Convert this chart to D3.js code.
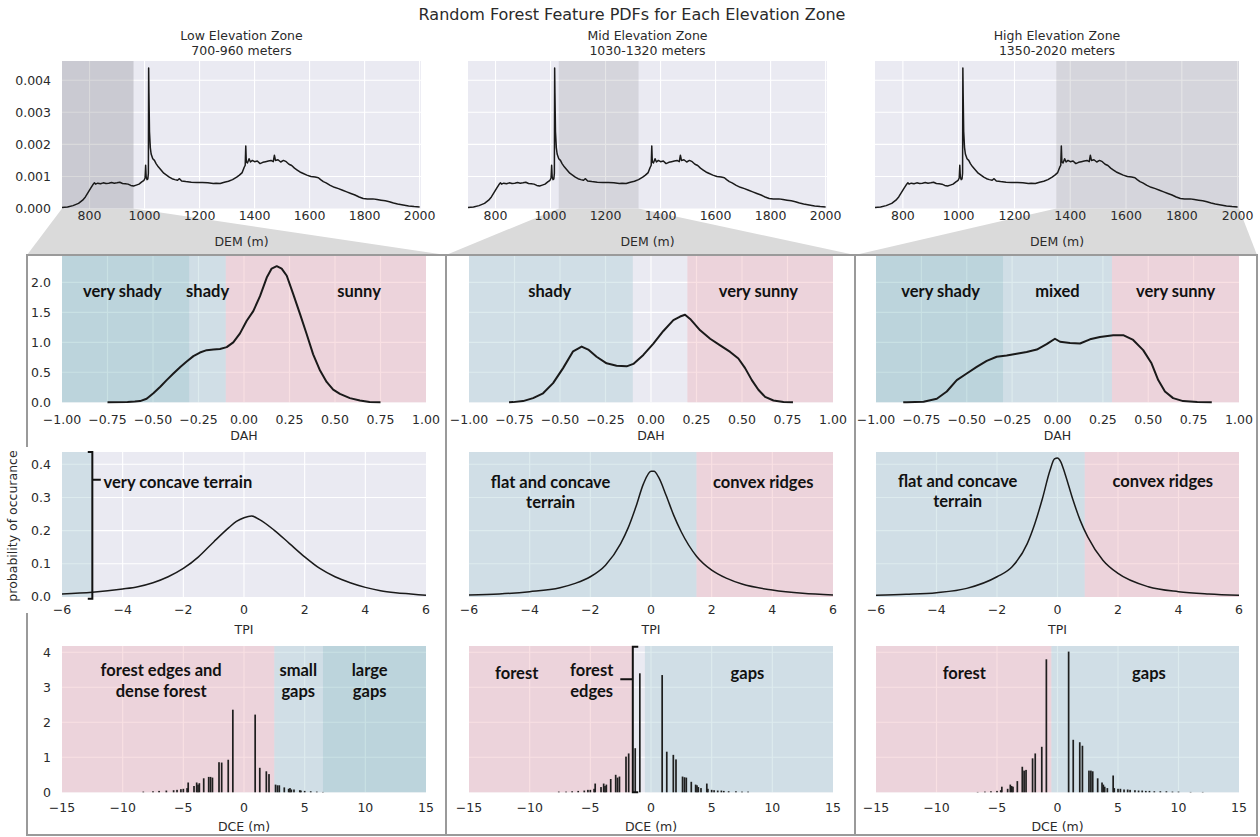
<!DOCTYPE html>
<html>
<head>
<meta charset="utf-8">
<script src="https://cdn.jsdelivr.net/npm/d3@7"></script>
<style>
  body { margin: 0; background: #fff; }
  svg text { font-family: "DejaVu Sans", sans-serif; fill: #2a2a2a; }
  svg text.note { font-family: Lato, "Open Sans", sans-serif; font-weight: 700; fill: #111; }
</style>
</head>
<body>
<svg id="chart" width="1260" height="837"></svg>
<script>
// ---------------- data ----------------
const zoneNames = ["Low Elevation Zone", "Mid Elevation Zone", "High Elevation Zone"];
const zoneRanges = ["700-960 meters", "1030-1320 meters", "1350-2020 meters"];
const zoneBounds = [[700, 960], [1030, 1320], [1350, 2020]];

const demTicks = [800, 1000, 1200, 1400, 1600, 1800, 2000];
const demYTicks = [0, 0.001, 0.002, 0.003, 0.004];
const dahTicks = [-1, -0.75, -0.5, -0.25, 0, 0.25, 0.5, 0.75, 1];
const dahYTicks = [0, 0.5, 1, 1.5, 2];
const tpiTicks = [-6, -4, -2, 0, 2, 4, 6];
const tpiYTicks = [0, 0.1, 0.2, 0.3, 0.4];
const dceTicks = [-15, -10, -5, 0, 5, 10, 15];
const dceYTicks = [0, 1, 2, 3, 4];

// elevation density (DEM, m) -> pdf
const demPdf = [
  [700,.00003],[720,.00005],[740,.00009],[760,.00016],[775,.00026],[785,.00036],[795,.0005],[805,.00064],
  [812,.00074],[818,.0008],[822,.00076],[830,.00079],[840,.00077],[850,.0008],[860,.00078],[870,.00079],
  [880,.00081],[890,.00079],[900,.0008],[910,.00082],[920,.00078],[930,.00077],[940,.00076],[950,.00072],
  [960,.0007],[970,.00073],[980,.00076],[990,.00083],[998,.00088],[1002,.00095],[1004,.00135],[1006,.00098],
  [1009,.0009],[1012,.00092],[1014,.0011],[1015,.00438],[1016,.0036],[1018,.0024],[1021,.0019],[1024,.0017],
  [1030,.00155],[1036,.0015],[1042,.0014],[1050,.0013],[1060,.0012],[1070,.0011],[1080,.00104],[1090,.00098],
  [1100,.00093],[1110,.0009],[1120,.00088],[1127,.00093],[1135,.00086],[1150,.00084],[1170,.00082],[1190,.00081],
  [1210,.00081],[1230,.0008],[1250,.00078],[1260,.00079],[1275,.00078],[1290,.00082],[1305,.00085],[1320,.0009],
  [1335,.00098],[1345,.00104],[1355,.00112],[1362,.00128],[1366,.00135],[1368,.00195],[1370,.00145],[1374,.00142],
  [1380,.00155],[1385,.00145],[1392,.0015],[1400,.00146],[1410,.00148],[1420,.0014],[1430,.00144],[1440,.00146],
  [1450,.00148],[1460,.0015],[1468,.00146],[1472,.00166],[1476,.0015],[1485,.00152],[1495,.00145],[1505,.0015],
  [1515,.00146],[1525,.00138],[1535,.00134],[1545,.00126],[1555,.0012],[1565,.00114],[1575,.0011],[1590,.00104],
  [1605,.001],[1620,.00098],[1632,.00096],[1640,.0009],[1650,.00084],[1660,.0008],[1675,.00072],[1690,.00066],
  [1705,.00062],[1720,.00057],[1735,.00052],[1750,.00047],[1765,.00042],[1780,.00036],[1795,.00031],[1810,.0003],
  [1830,.0003],[1845,.00028],[1860,.00026],[1875,.00024],[1890,.00021],[1905,.00017],[1920,.00014],[1940,.00011],
  [1960,.00008],[1980,.00006],[2000,.00005]
];

// DAH pdf per zone
const dahLow = [
  [-0.75,0],[-0.64,0.005],[-0.6,0.012],[-0.571,0.02],[-0.535,0.06],[-0.498,0.15],[-0.46,0.26],[-0.425,0.37],
  [-0.388,0.48],[-0.35,0.59],[-0.315,0.68],[-0.278,0.77],[-0.242,0.83],[-0.205,0.87],[-0.168,0.88],[-0.132,0.89],
  [-0.095,0.92],[-0.059,1.0],[-0.022,1.15],[0.015,1.36],[0.051,1.52],[0.088,1.77],[0.125,2.08],[0.152,2.23],
  [0.18,2.27],[0.207,2.23],[0.235,2.11],[0.271,1.8],[0.308,1.47],[0.345,1.13],[0.38,0.8],[0.418,0.53],
  [0.454,0.34],[0.49,0.21],[0.527,0.14],[0.582,0.07],[0.637,0.03],[0.69,0.005],[0.75,0]
];
const dahMid = [
  [-0.78,0],[-0.758,0.003],[-0.703,0.02],[-0.648,0.07],[-0.593,0.15],[-0.538,0.32],[-0.483,0.57],[-0.428,0.85],
  [-0.381,0.93],[-0.345,0.88],[-0.299,0.76],[-0.244,0.65],[-0.189,0.61],[-0.134,0.6],[-0.097,0.64],[-0.042,0.79],
  [0.013,0.98],[0.068,1.19],[0.123,1.37],[0.16,1.43],[0.187,1.46],[0.215,1.39],[0.27,1.2],[0.325,1.06],
  [0.38,0.95],[0.435,0.84],[0.48,0.73],[0.517,0.57],[0.554,0.37],[0.59,0.21],[0.627,0.09],[0.673,0.03],
  [0.728,0.005],[0.78,0]
];
const dahHigh = [
  [-0.85,0],[-0.83,0.002],[-0.738,0.01],[-0.665,0.06],[-0.61,0.18],[-0.555,0.37],[-0.5,0.48],[-0.445,0.59],
  [-0.39,0.69],[-0.335,0.76],[-0.28,0.78],[-0.225,0.81],[-0.17,0.84],[-0.114,0.88],[-0.06,0.97],[-0.014,1.06],
  [0.014,1.01],[0.069,0.99],[0.124,0.98],[0.179,1.05],[0.234,1.09],[0.307,1.12],[0.362,1.12],[0.417,1.04],
  [0.472,0.87],[0.518,0.65],[0.555,0.37],[0.592,0.18],[0.637,0.07],[0.692,0.02],[0.77,0.005],[0.85,0]
];

// TPI pdf per zone
const tpiLow = [
  [-6,0.009],[-5,0.014],[-4,0.024],[-3.5,0.031],[-3,0.043],[-2.5,0.061],[-2,0.086],[-1.5,0.121],[-1,0.166],
  [-0.5,0.209],[-0.25,0.228],[0,0.239],[0.25,0.244],[0.5,0.234],[1,0.201],[1.5,0.161],[2,0.121],[2.5,0.086],
  [3,0.061],[3.5,0.043],[4,0.029],[4.5,0.019],[5,0.013],[5.5,0.009],[6,0.005]
];
const tpiMid = [
  [-6,0.006],[-5,0.009],[-4,0.016],[-3,0.028],[-2.5,0.041],[-2,0.061],[-1.5,0.096],[-1,0.161],[-0.75,0.209],
  [-0.5,0.271],[-0.25,0.341],[0,0.379],[0.1,0.379],[0.25,0.361],[0.5,0.306],[0.75,0.246],[1,0.196],[1.5,0.123],
  [2,0.081],[2.5,0.056],[3,0.039],[4,0.021],[5,0.011],[6,0.006]
];
const tpiHigh = [
  [-6,0.005],[-5,0.008],[-4,0.013],[-3,0.026],[-2,0.061],[-1.5,0.091],[-1,0.161],[-0.75,0.221],[-0.5,0.296],
  [-0.25,0.381],[-0.1,0.416],[0,0.419],[0.1,0.409],[0.25,0.371],[0.5,0.296],[0.75,0.231],[1,0.181],[1.5,0.111],
  [2,0.071],[3,0.031],[4,0.016],[5,0.009],[6,0.005]
];

// DCE pdf per zone (distance to canopy edge, m)
const dceLow = [
  [-8.3,0.02],[-7.5,0.03],[-7.0,0.04],[-6.4,0.05],[-5.8,0.06],[-5.52,0.07],[-5.2,0.09],[-5.0,0.1],[-4.69,0.12],
  [-4.6,0.28],[-4.12,0.18],[-3.9,0.28],[-3.79,0.22],[-3.68,0.26],[-3.32,0.4],[-2.91,0.44],[-2.76,0.44],[-2.6,0.42],
  [-2.06,0.86],[-1.84,0.85],[-1.3,0.93],[-0.92,2.36],
  [0.92,2.22],[1.3,0.7],[1.84,0.6],[2.06,0.52],[2.6,0.22],[2.76,0.2],[2.91,0.2],[3.32,0.14],[3.68,0.1],
  [3.79,0.12],[3.9,0.08],[4.12,0.08],[4.6,0.06],[4.69,0.05],[5.0,0.04],[5.5,0.03],[6.0,0.02],[6.5,0.01]
];
const dceMid = [
  [-7.6,0.02],[-7.0,0.02],[-6.5,0.03],[-6.0,0.04],[-5.5,0.05],[-5.2,0.07],[-5.0,0.07],[-4.69,0.1],[-4.6,0.25],
  [-4.12,0.15],[-3.9,0.25],[-3.79,0.18],[-3.68,0.22],[-3.32,0.38],[-2.91,0.5],[-2.76,0.42],[-2.6,0.45],
  [-2.06,1.02],[-1.84,1.11],[-1.3,1.26],[-0.92,3.4],
  [0.92,3.35],[1.3,1.16],[1.84,1.07],[2.06,0.94],[2.6,0.45],[2.76,0.43],[2.91,0.42],[3.32,0.3],[3.68,0.22],
  [3.79,0.2],[3.9,0.15],[4.12,0.12],[4.6,0.25],[4.69,0.1],[5.0,0.07],[5.2,0.06],[5.5,0.05],[5.8,0.05],
  [6.0,0.04],[6.4,0.03],[7.0,0.03],[7.5,0.02],[8.0,0.02]
];
const dceHigh = [
  [-6.6,0.01],[-6.0,0.02],[-5.5,0.03],[-5.0,0.04],[-4.69,0.06],[-4.6,0.16],[-4.12,0.1],[-3.9,0.22],[-3.79,0.18],
  [-3.68,0.16],[-3.32,0.32],[-2.91,0.73],[-2.76,0.62],[-2.6,0.64],[-2.06,0.97],[-1.84,1.11],[-1.3,1.3],[-0.92,3.8],
  [0.92,4.02],[1.3,1.5],[1.84,1.43],[2.06,1.33],[2.6,0.62],[2.76,0.62],[2.91,0.6],[3.32,0.4],[3.68,0.28],
  [3.79,0.22],[3.9,0.16],[4.12,0.12],[4.6,0.48],[4.69,0.12],[5.0,0.1],[5.2,0.1],[5.5,0.08],[5.8,0.08],[6.0,0.07],
  [6.4,0.06],[6.7,0.05],[7.0,0.05],[7.3,0.04],[7.6,0.04],[8.0,0.03],[8.5,0.03],[9.0,0.03],[9.5,0.02],
  [10.0,0.02],[11.0,0.01],[12.0,0.01]
];

// class bands: [from, to, kind]
const dahBands = [
  [[-1, -0.3, "deep"], [-0.3, -0.1, "cool"], [-0.1, 1, "warm"]],
  [[-1, -0.1, "cool"], [0.2, 1, "warm"]],
  [[-1, -0.3, "deep"], [-0.3, 0.3, "cool"], [0.3, 1, "warm"]]
];
const tpiBands = [
  [[-6, -5, "cool"]],
  [[-6, 1.5, "cool"], [1.5, 6, "warm"]],
  [[-6, 0.9, "cool"], [0.9, 6, "warm"]]
];
const dceBands = [
  [[-15, 2.5, "warm"], [2.5, 6.5, "cool"], [6.5, 15, "deep"]],
  [[-15, -1.5, "warm"], [-0.5, 15, "cool"]],
  [[-15, -0.5, "warm"], [-0.5, 15, "cool"]]
];

// class labels: [text lines, x, y, anchor]
const dahNotes = [
  [[["very shady"], -0.668, 1.86], [["shady"], -0.2, 1.86], [["sunny"], 0.632, 1.86]],
  [[["shady"], -0.556, 1.86], [["very sunny"], 0.59, 1.86]],
  [[["very shady"], -0.644, 1.86], [["mixed"], 0, 1.86], [["very sunny"], 0.651, 1.86]]
];
const tpiNotes = [
  [[["very concave terrain"], -4.63, 0.346, "start"]],
  [[["flat and concave", "terrain"], -3.31, 0.347], [["convex ridges"], 3.7, 0.347]],
  [[["flat and concave", "terrain"], -3.3, 0.35], [["convex ridges"], 3.48, 0.35]]
];
const dceNotes = [
  [[["forest edges and", "dense forest"], -6.83, 3.49], [["small", "gaps"], 4.47, 3.49], [["large", "gaps"], 10.36, 3.49]],
  [[["forest"], -11.07, 3.4], [["forest", "edges"], -4.89, 3.49], [["gaps"], 7.95, 3.4]],
  [[["forest"], -7.7, 3.4], [["gaps"], 7.56, 3.4]]
];

// ---------------- layout ----------------
const svg = d3.select("#chart");
const bandFill = { deep: "rgb(119,181,187)", cool: "rgb(169,204,212)", warm: "rgb(239,177,186)" };
const bandAlpha = 0.4;
const colsTop = [[62, 421], [468, 827], [875, 1239]];
const cols = [[62, 426], [469, 833], [876, 1239]];
const boxEdges = [27, 446, 855, 1257];
const boxTop = 255, boxBottom = 835;
const rows = {
  dem: { y: [208.5, 61], tickY: 216, labelY: 242 },
  dah: { y: [402.3, 256], tickY: 420, labelY: 436 },
  tpi: { y: [597, 452], tickY: 610, labelY: 630 },
  dce: { y: [792.3, 646], tickY: 808, labelY: 827 }
};

const demX = colsTop.map(r => d3.scaleLinear().domain([700, 2005]).range(r));
const demY = d3.scaleLinear().domain([0, 0.0046]).range(rows.dem.y);

// zoom funnels from each shaded elevation range down to its detail box
const funnelLayer = svg.append("g");
zoneBounds.forEach((b, i) => {
  const x = demX[i];
  const hi = Math.min(b[1], x.domain()[1]);
  funnelLayer.append("polygon")
    .attr("points", [[x(b[0]), demY(0)], [x(hi), demY(0)], [boxEdges[i + 1], boxTop], [boxEdges[i], boxTop]].join(" "))
    .attr("fill", "#dadada");
});

function frame(g, xs, ys, xGrid, yGrid) {
  const [x0, x1] = xs.range(), [y0, y1] = ys.range();
  g.append("rect").attr("x", x0).attr("y", y1).attr("width", x1 - x0).attr("height", y0 - y1).attr("fill", "#eaeaf2");
  g.selectAll(null).data(xGrid).join("line")
    .attr("x1", d => xs(d)).attr("x2", d => xs(d)).attr("y1", y1).attr("y2", y0)
    .attr("stroke", "#fff").attr("stroke-width", 1.1);
  g.selectAll(null).data(yGrid).join("line")
    .attr("x1", x0).attr("x2", x1).attr("y1", d => ys(d)).attr("y2", d => ys(d))
    .attr("stroke", "#fff").attr("stroke-width", 1.1);
}

function xTickLabels(g, xs, ticks, y, fmt) {
  g.selectAll(null).data(ticks).join("text")
    .attr("x", d => xs(d)).attr("y", y).attr("dy", "0.35em")
    .attr("text-anchor", "middle").attr("font-size", 12.5)
    .text(fmt);
}
function yTickLabels(g, ys, ticks, fmt) {
  g.selectAll(null).data(ticks).join("text")
    .attr("x", 51).attr("y", d => ys(d)).attr("dy", "0.35em")
    .attr("text-anchor", "end").attr("font-size", 12.5)
    .text(fmt);
}
function axisLabel(g, xs, y, txt) {
  const r = xs.range();
  g.append("text").attr("x", (r[0] + r[1]) / 2).attr("y", y).attr("dy", "0.35em")
    .attr("text-anchor", "middle").attr("font-size", 12.5).text(txt);
}
const minus = d3.format("");
function fmtSigned(f) { return d => f(d).replace("-", "\u2212"); }

function bands(g, xs, ys, list) {
  const [y0, y1] = ys.range();
  g.selectAll(null).data(list).join("rect")
    .attr("x", d => xs(d[0])).attr("width", d => xs(d[1]) - xs(d[0]))
    .attr("y", y1).attr("height", y0 - y1)
    .attr("fill", d => bandFill[d[2]]).attr("fill-opacity", bandAlpha);
}

function notes(g, xs, ys, list) {
  list.forEach(n => {
    const [lines, x, y, anchor] = n;
    const t = g.append("text").attr("class", "note").attr("font-size", 16.5)
      .attr("text-anchor", anchor || "middle")
      .attr("x", xs(x)).attr("y", ys(y));
    lines.forEach((ln, k) => {
      t.append("tspan").attr("x", xs(x)).attr("dy", k === 0 ? "0.35em" : "1.25em").text(ln);
    });
  });
}

const curve = (xs, ys) => d3.line().x(d => xs(d[0])).y(d => ys(d[1]));

// ---------------- top row: elevation pdf ----------------
zoneBounds.forEach((b, i) => {
  const g = svg.append("g");
  const xs = demX[i];
  frame(g, xs, demY, [800, 1000, 1200, 1400, 1600, 1800, 2000], [0.001, 0.002, 0.003, 0.004]);
  const hi = Math.min(b[1], xs.domain()[1]);
  g.append("rect").attr("x", xs(b[0])).attr("width", xs(hi) - xs(b[0]))
    .attr("y", demY.range()[1]).attr("height", demY.range()[0] - demY.range()[1])
    .attr("fill", "#808088").attr("fill-opacity", i === 0 ? 0.3 : 0.2);
  g.append("path").datum(demPdf).attr("d", curve(xs, demY))
    .attr("fill", "none").attr("stroke", "#1a1a1a").attr("stroke-width", 1.5).attr("stroke-linejoin", "round");
  xTickLabels(g, xs, demTicks, rows.dem.tickY, d => d);
  axisLabel(g, xs, rows.dem.labelY, "DEM (m)");
  if (i === 0) yTickLabels(g, demY, demYTicks, d3.format(".3f"));
  const cx = (xs.range()[0] + xs.range()[1]) / 2;
  g.append("text").attr("x", cx).attr("y", 36).attr("dy", "0.35em").attr("text-anchor", "middle").attr("font-size", 12.5).text(zoneNames[i]);
  g.append("text").attr("x", cx).attr("y", 51).attr("dy", "0.35em").attr("text-anchor", "middle").attr("font-size", 12.5).text(zoneRanges[i]);
});

svg.append("text").attr("x", 632).attr("y", 14).attr("dy", "0.35em").attr("text-anchor", "middle")
  .attr("font-size", 16).text("Random Forest Feature PDFs for Each Elevation Zone");

// ---------------- detail rows ----------------
const dahSeries = [dahLow, dahMid, dahHigh];
const tpiSeries = [tpiLow, tpiMid, tpiHigh];
const dceSeries = [dceLow, dceMid, dceHigh];

cols.forEach((r, i) => {
  // DAH
  {
    const g = svg.append("g");
    const xs = d3.scaleLinear().domain([-1, 1]).range(r);
    const ys = d3.scaleLinear().domain([0, 2.44]).range(rows.dah.y);
    frame(g, xs, ys, [-0.75, -0.5, -0.25, 0, 0.25, 0.5, 0.75], [0.5, 1, 1.5, 2]);
    bands(g, xs, ys, dahBands[i]);
    g.append("path").datum(dahSeries[i]).attr("d", curve(xs, ys))
      .attr("fill", "none").attr("stroke", "#1a1a1a").attr("stroke-width", 2).attr("stroke-linejoin", "round");
    xTickLabels(g, xs, dahTicks, rows.dah.tickY, fmtSigned(d3.format(".2f")));
    axisLabel(g, xs, rows.dah.labelY, "DAH");
    if (i === 0) yTickLabels(g, ys, dahYTicks, d3.format(".1f"));
    notes(g, xs, ys, dahNotes[i]);
  }
  // TPI
  {
    const g = svg.append("g");
    const xs = d3.scaleLinear().domain([-6, 6]).range(r);
    const ys = d3.scaleLinear().domain([0, 0.437]).range(rows.tpi.y);
    frame(g, xs, ys, [-4, -2, 0, 2, 4], [0.1, 0.2, 0.3, 0.4]);
    bands(g, xs, ys, tpiBands[i]);
    g.append("path").datum(tpiSeries[i]).attr("d", curve(xs, ys).curve(d3.curveMonotoneX))
      .attr("fill", "none").attr("stroke", "#1a1a1a").attr("stroke-width", 1.5);
    xTickLabels(g, xs, tpiTicks, rows.tpi.tickY, fmtSigned(d3.format("d")));
    axisLabel(g, xs, rows.tpi.labelY, "TPI");
    if (i === 0) {
      yTickLabels(g, ys, tpiYTicks, d3.format(".1f"));
      // bracket marking the concave tail
      const bx = xs(-5), hook = xs(-5) - xs(-5.15);
      const yt = ys(0.437), yb = ys(-0.005), ym = ys(0.353);
      g.append("path")
        .attr("d", `M${bx - hook},${yt}H${bx}V${yb}H${bx - hook}M${bx},${ym}H${xs(-4.72)}`)
        .attr("fill", "none").attr("stroke", "#111").attr("stroke-width", 2);
    }
    notes(g, xs, ys, tpiNotes[i]);
  }
  // DCE
  {
    const g = svg.append("g");
    const xs = d3.scaleLinear().domain([-15, 15]).range(r);
    const ys = d3.scaleLinear().domain([0, 4.18]).range(rows.dce.y);
    frame(g, xs, ys, [-10, -5, 0, 5, 10], [1, 2, 3, 4]);
    bands(g, xs, ys, dceBands[i]);
    g.selectAll(null).data(dceSeries[i]).join("rect")
      .attr("x", d => xs(d[0] - 0.07)).attr("width", d => xs(d[0] + 0.07) - xs(d[0] - 0.07))
      .attr("y", d => ys(d[1])).attr("height", d => ys(0) - ys(d[1]))
      .attr("fill", "#1e1e1e");
    xTickLabels(g, xs, dceTicks, rows.dce.tickY, fmtSigned(d3.format("d")));
    axisLabel(g, xs, rows.dce.labelY, "DCE (m)");
    if (i === 0) yTickLabels(g, ys, dceYTicks, d3.format("d"));
    if (i === 1) {
      // bracket around the forest-edge bins
      const bx = xs(-1.5), hook = xs(-1.05) - xs(-1.5);
      const yt = ys(4.16), yb = ys(0), ym = ys(3.23);
      g.append("path")
        .attr("d", `M${bx + hook},${yt}H${bx}V${yb}H${bx + hook}M${bx},${ym}H${xs(-2.53)}`)
        .attr("fill", "none").attr("stroke", "#111").attr("stroke-width", 2);
    }
    notes(g, xs, ys, dceNotes[i]);
  }
});

// detail boxes
const boxG = svg.append("g").attr("fill", "none").attr("stroke", "#9a9a9a").attr("stroke-width", 2);
boxG.append("rect").attr("x", boxEdges[0]).attr("y", boxTop)
  .attr("width", boxEdges[3] - boxEdges[0]).attr("height", boxBottom - boxTop);
[boxEdges[1], boxEdges[2]].forEach(x => boxG.append("line").attr("x1", x).attr("x2", x).attr("y1", boxTop).attr("y2", boxBottom));

// shared y label
svg.append("rect").attr("x", 0).attr("y", 447).attr("width", 30).attr("height", 166).attr("fill", "#fff");
svg.append("text").attr("transform", "translate(13,526) rotate(-90)").attr("dy", "0.35em")
  .attr("text-anchor", "middle").attr("font-size", 12.5).text("probability of occurance");
</script>
</body>
</html>
